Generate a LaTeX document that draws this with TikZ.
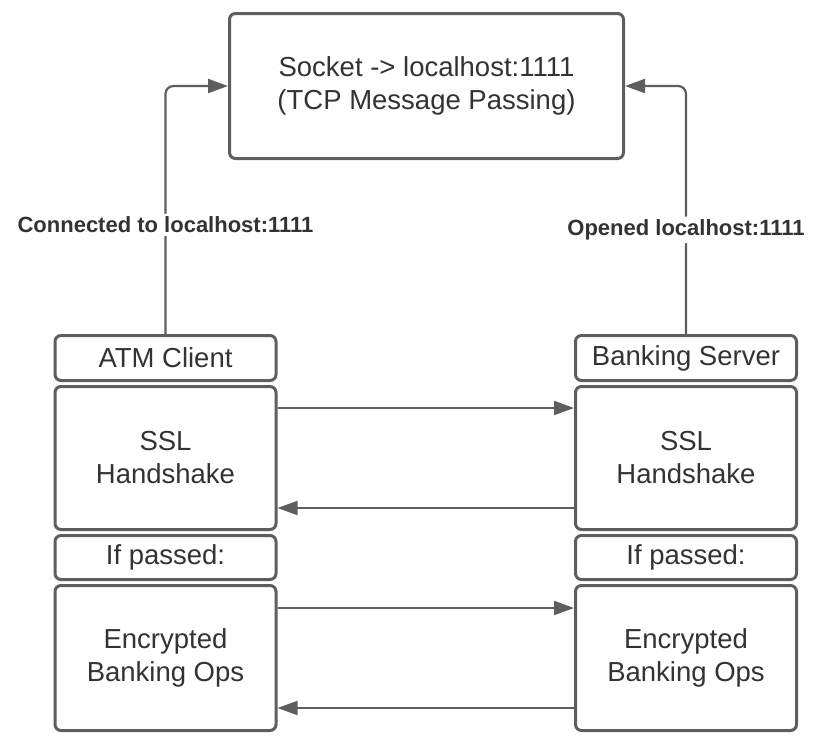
\documentclass[tikz,border=0pt]{standalone}
\usepackage{fontspec}
\setmainfont{Liberation Sans}
\usepackage{xcolor}
\definecolor{LineGray}{HTML}{5E5E5E}
\definecolor{InkGray}{HTML}{333333}
\usetikzlibrary{arrows.meta,positioning}

\begin{document}
\begin{tikzpicture}[
  x=1pt, y=1pt,
  font=\fontsize{27.5}{33}\selectfont, text=InkGray,
  box/.style={draw=LineGray, line width=3pt, rounded corners=6pt, align=center,
              fill=white, inner sep=0pt},
  col/.style={box, minimum width=221pt},
  arr/.style={draw=LineGray, line width=2.2pt, -{Triangle[length=20pt,width=14pt]}},
  lbl/.style={fill=white, text=InkGray, inner sep=3pt,
              font=\bfseries\fontsize{22}{26}\selectfont}
]
  \useasboundingbox (0,0) rectangle (833,-750);
  \node[box, minimum width=394pt, minimum height=145pt] (socket) at (426.5,-86)
    {Socket -> localhost:1111\\(TCP Message Passing)};
  % client side
  \node[col, minimum height=45pt] (atm) at (165.5,-358) {ATM Client};
  \node[col, minimum height=143pt, below=3pt of atm] (atmssl) {SSL\\Handshake};
  \node[col, minimum height=44pt, below=3pt of atmssl] (atmpass) {If passed:};
  \node[col, minimum height=145pt, below=3pt of atmpass] (atmops)
    {Encrypted\\Banking Ops};
  % server side
  \node[col, minimum height=45pt] (bank) at (686,-358) {Banking Server};
  \node[col, minimum height=143pt, below=3pt of bank] (bankssl) {SSL\\Handshake};
  \node[col, minimum height=44pt, below=3pt of bankssl] (bankpass) {If passed:};
  \node[col, minimum height=145pt, below=3pt of bankpass] (bankops)
    {Encrypted\\Banking Ops};
  % socket connections
  \draw[arr, rounded corners=8pt] (atm.north) |-
    node[lbl, pos=0.22] {Connected to localhost:1111} (socket.west);
  \draw[arr, rounded corners=8pt] (bank.north) |-
    node[lbl, pos=0.21] {Opened localhost:1111} (socket.east);
  % message exchange
  \draw[arr] ([yshift=50pt]atmssl.east) -- ([yshift=50pt]bankssl.west);
  \draw[arr] ([yshift=-50pt]bankssl.west) -- ([yshift=-50pt]atmssl.east);
  \draw[arr] ([yshift=50pt]atmops.east) -- ([yshift=50pt]bankops.west);
  \draw[arr] ([yshift=-50pt]bankops.west) -- ([yshift=-50pt]atmops.east);
\end{tikzpicture}
\end{document}
